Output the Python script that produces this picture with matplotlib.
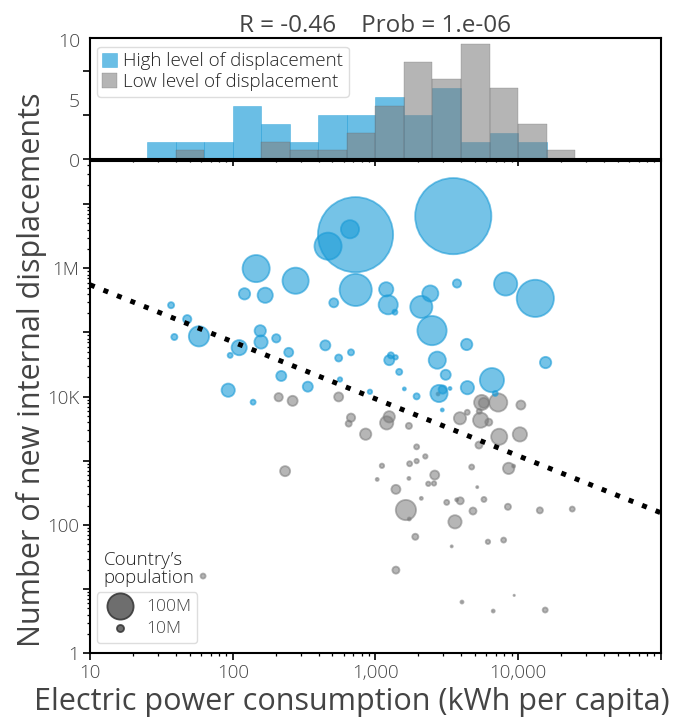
import matplotlib
matplotlib.use("Agg")
import matplotlib.pyplot as plt
import numpy as np
from matplotlib.ticker import FixedLocator, FuncFormatter, LogLocator, NullFormatter

plt.rcParams["font.family"] = ["Open Sans", "DejaVu Sans"]
plt.rcParams["font.weight"] = "light"

# countries with a high level of displacement
hi_kwh = [726, 664, 466, 146, 276, 121, 169, 511, 37, 48, 39, 58, 156, 158, 202, 111, 96,
          247, 446, 553, 675, 219, 336, 565, 93, 728, 3516, 3733, 8185, 13213, 1191, 1230,
          1371, 2427, 2099, 2495, 4365, 15600, 2716, 1251, 1285, 1387, 1469, 3112, 6561,
          4416, 1596, 916, 2792, 2965, 3334, 6918, 1946, 2944, 139]
hi_idp = [3.34e6, 4.06e6, 2.21e6, 9.9e5, 6.4e5, 4.0e5, 3.8e5, 2.9e5, 2.66e5, 1.61e5, 8.5e4,
          8.7e4, 1.06e5, 7.1e4, 8.1e4, 5.8e4, 4.4e4, 4.9e4, 6.3e4, 4.0e4, 4.9e4, 2.1e4,
          1.43e4, 1.85e4, 1.26e4, 4.6e5, 6.5e6, 5.8e5, 5.7e5, 3.4e5, 4.7e5, 2.7e5, 2.07e5,
          4.05e5, 2.5e5, 1.07e5, 6.5e4, 3.4e4, 3.7e4, 3.7e4, 4.4e4, 4.1e4, 2.43e4, 2.19e4,
          1.81e4, 1.38e4, 1.32e4, 1.19e4, 1.12e4, 1.29e4, 1.34e4, 1.12e4, 1.01e4, 6.2e3, 8.2e3]
hi_pop = [756, 51, 107, 107, 100, 22, 37, 15, 8, 13, 8, 62, 22, 29, 13, 37, 6, 15, 18, 10, 8,
          18, 18, 5, 29, 147, 776, 13, 80, 194, 33, 56, 6, 41, 73, 123, 22, 22, 46, 18, 8, 5,
          8, 18, 86, 29, 3, 5, 46, 13, 3, 6, 8, 3, 6]

# countries with a low level of displacement
lo_kwh = [210, 263, 553, 675, 650, 855, 233, 62, 1251, 1200, 1718, 5559, 5750, 7261, 10470,
          4406, 3917, 5346, 5468, 6237, 7379, 10300, 5321, 1946, 2239, 1946, 1738, 1112, 4732,
          8590, 9311, 1030, 1718, 2606, 2576, 2350, 1393, 5176, 2099, 3162, 3715, 3936, 5768,
          8492, 14220, 23990, 4831, 1637, 1729, 3614, 1905, 6152, 7925, 3428, 1393, 9397,
          4046, 6699, 15500, 2750]
lo_idp = [9.8e3, 8.6e3, 9.9e3, 4.7e3, 3.8e3, 2.6e3, 690, 16, 4.85e3, 3.9e3, 3.5e3, 8.1e3,
          8.0e3, 8.1e3, 7.4e3, 5.7e3, 4.6e3, 5.9e3, 4.3e3, 4.0e3, 2.37e3, 2.58e3, 1.76e3,
          1.65e3, 1.17e3, 990, 900, 836, 800, 762, 827, 513, 532, 600, 444, 438, 359, 389, 260,
          225, 247, 238, 250, 192, 169, 177, 165, 171, 124, 112, 65.5, 54.7, 58.2, 46.4, 19.8,
          8.0, 6.3, 4.56, 4.73, 1.1e4]
lo_pop = [13, 18, 15, 13, 8, 22, 18, 6, 22, 29, 8, 37, 18, 51, 15, 6, 25, 6, 37, 10, 41, 33,
          10, 6, 5, 5, 6, 5, 6, 22, 3, 3, 3, 15, 5, 5, 15, 2, 3, 6, 3, 10, 6, 8, 8, 6, 10, 62,
          3, 29, 8, 5, 6, 2, 10, 1.1, 3, 3, 6, 3]

# log-log fit: log10(idp) = fit_b + fit_a * log10(kwh)
fit_a, fit_b = -0.888, 6.631
corr_text = "R = -0.46    Prob = 1.e-06"

BLUE = "#1a9bd7"
GRAY = "#7a7a7a"
TXT = "#444444"


def msize(pop, lw):
    d = 2.8 * np.sqrt(np.asarray(pop, dtype=float)) * 0.72 - lw
    return np.clip(d, 1.0, None) ** 2


fig = plt.figure(figsize=(6.82, 7.2), dpi=100)
ax = fig.add_axes([0.1320, 0.0926, 0.8368, 0.6838])
axh = fig.add_axes([0.1320, 0.7788, 0.8368, 0.1681], sharex=ax)

# scatter
lw = 1.3
ax.scatter(lo_kwh, lo_idp, s=msize(lo_pop, lw), color=GRAY, alpha=0.55,
           edgecolors=GRAY, linewidths=lw, zorder=2)
ax.scatter(hi_kwh, hi_idp, s=msize(hi_pop, lw), color=BLUE, alpha=0.6,
           edgecolors=BLUE, linewidths=lw, zorder=3)

xx = np.array([10, 1e5])
ax.plot(xx, 10 ** (fit_b + fit_a * np.log10(xx)), color="black", lw=3.6,
        ls=(0, (1, 1.9)), dash_capstyle="butt", zorder=4)

ax.set_xscale("log")
ax.set_yscale("log")
ax.set_xlim(10, 1e5)
ax.set_ylim(1, 4.7e7)

xlab = {10: "10", 100: "100", 1000: "1,000", 10000: "10,000"}
ylab = {1: "1", 100: "100", 10000: "10K", 1000000: "1M"}
ax.xaxis.set_major_locator(FixedLocator([10, 100, 1000, 1e4, 1e5]))
ax.xaxis.set_major_formatter(FuncFormatter(lambda v, p: xlab.get(int(round(v)), "")))
ax.yaxis.set_major_locator(FixedLocator([10.0 ** k for k in range(0, 8)]))
ax.yaxis.set_major_formatter(FuncFormatter(lambda v, p: ylab.get(int(round(v)), "")))
for a in (ax.xaxis, ax.yaxis):
    a.set_minor_locator(LogLocator(base=10, subs=np.arange(2, 10), numticks=20))
    a.set_minor_formatter(NullFormatter())

ax.set_xlabel("Electric power consumption (kWh per capita)", fontsize=22, color=TXT,
              x=0.459, labelpad=3)
ax.set_ylabel("Number of new internal displacements", fontsize=22, color=TXT,
              y=0.575, labelpad=0)

for a in (ax, axh):
    for sp in a.spines.values():
        sp.set_linewidth(1.5)
    a.tick_params(which="major", length=5, width=1.2, labelsize=13.5, labelcolor=TXT, pad=3)
    a.tick_params(which="minor", length=2.5, width=0.9)

# size legend
h100 = ax.scatter([], [], s=msize([100], lw), color="#555555", alpha=0.85,
                  edgecolors="#333333", linewidths=lw)
h10 = ax.scatter([], [], s=msize([10], lw), color="#555555", alpha=0.85,
                 edgecolors="#333333", linewidths=lw)
leg = ax.legend([h100, h10], ["100M", "10M"], loc="lower left",
                bbox_to_anchor=(0.012, 0.021), borderaxespad=0, fontsize=12.5,
                labelspacing=0.35, handletextpad=0.5, borderpad=0.35, fancybox=True,
                edgecolor="#dddddd", framealpha=1)
for t in leg.get_texts():
    t.set_color(TXT)
ax.text(0.024, 0.134, "Country’s\npopulation", transform=ax.transAxes, fontsize=13.5,
        color="#222222", ha="left", va="bottom", linespacing=1.0)

# histogram
bins = 10 ** np.arange(1.4, 4.61, 0.2)
axh.hist(hi_kwh, bins=bins, color=BLUE, alpha=0.65, edgecolor=BLUE, linewidth=0.4,
         label="High level of displacement")
axh.hist(lo_kwh, bins=bins, color="#808080", alpha=0.58, edgecolor="#606060", linewidth=0.3,
         label="Low level of displacement")
axh.set_ylim(0, 13.65)
axh.set_yticks([0, 5, 10])
axh.set_yticklabels([])
for val, frac in ((0, -0.02), (5, 0.476), (10, 0.972)):
    axh.text(-0.0175, frac, str(val), transform=axh.transAxes, ha="right", va="center",
             fontsize=14, color=TXT)
axh.tick_params(axis="x", which="both", labelbottom=False)
lg = axh.legend(loc="upper left", bbox_to_anchor=(0.012, 0.931), borderaxespad=0,
                fontsize=13.5, handlelength=0.8, handleheight=0.8, handletextpad=0.3,
                labelspacing=0.15, borderpad=0.3, edgecolor="#dddddd", framealpha=1)
for t in lg.get_texts():
    t.set_color("#222222")
axh.set_title(corr_text, fontsize=17.5, color=TXT, pad=4)

fig.savefig("out.png", dpi=100)
